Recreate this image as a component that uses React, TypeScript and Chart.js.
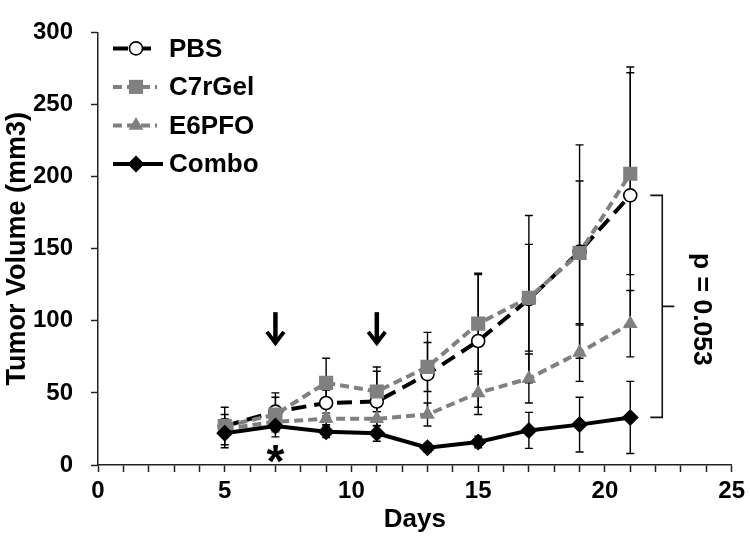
import React, { useEffect, useRef } from 'react';
import { Chart, registerables } from 'chart.js';

Chart.register(...registerables);

// ---- data ----
const days = [5, 7, 9, 11, 13, 15, 17, 19, 21];
const pbs = [27, 37, 43, 44, 63, 86, 115, 148, 187];
const pbsErr = [13, 13, 9, 24, 29, 46, 58, 74, 89];
const c7rGel = [27, 35, 57, 51, 68, 98, 116, 147, 202];
const c7rGelErr = [8, 12, 17, 14, 17, 35, 37, 50, 70];
const e6pfo = [25, 30, 32, 32, 35, 50, 60, 78, 98];
const e6pfoErr = [5, 6, 4, 5, 8, 15, 17, 20, 23];
const combo = [22, 27, 23, 22, 12, 16, 24, 28, 33];
const comboErr = [10, 7.5, 4, 5.5, 3, 4, 12.5, 19, 25];

const seriesNames = ['PBS', 'C7rGel', 'E6PFO', 'Combo'];
const xMin = 0, xMax = 25, xStep = 1, xLabelEvery = 5;
const yMin = 0, yMax = 300, yStep = 50;

// annotations (data units)
const arrowDays = [7, 11];
const arrowTop = 106;
const arrowBottom = 84;
const starDay = 7;
const starValue = 10;
const pText = 'p = 0.053';

const FONT = "'Liberation Sans', Arial, Helvetica, sans-serif";
const GRAY = '#808080';
const AXIS = '#222222';

const seriesValues = [pbs, c7rGel, e6pfo, combo];
const seriesErrs = [pbsErr, c7rGelErr, e6pfoErr, comboErr];
const seriesColors = ['#000000', GRAY, GRAY, '#000000'];
const seriesDash = [[15, 8], [9, 5], [9, 5], []];
const seriesPoint = ['circle', 'rect', 'triangle', 'rectRot'];
const seriesRadius = [6.5, 10, 8.5, 8.5];
const seriesPointFill = ['#ffffff', GRAY, GRAY, '#000000'];
const seriesPointBorder = ['#000000', GRAY, GRAY, '#000000'];
const seriesPointBorderW = [1.6, 0, 0, 0];

function drawMarker(ctx: CanvasRenderingContext2D, style: string, x: number, y: number, r: number, fill: string, stroke: string, bw: number) {
  ctx.save();
  ctx.setLineDash([]);
  ctx.beginPath();
  if (style === 'circle') {
    ctx.arc(x, y, r, 0, Math.PI * 2);
  } else if (style === 'rect') {
    const s = Math.SQRT1_2 * r;
    ctx.rect(x - s, y - s, 2 * s, 2 * s);
  } else if (style === 'triangle') {
    ctx.moveTo(x, y - r);
    ctx.lineTo(x + Math.sin(Math.PI / 3) * r, y + 0.5 * r);
    ctx.lineTo(x - Math.sin(Math.PI / 3) * r, y + 0.5 * r);
    ctx.closePath();
  } else {
    ctx.moveTo(x - r, y);
    ctx.lineTo(x, y - r);
    ctx.lineTo(x + r, y);
    ctx.lineTo(x, y + r);
    ctx.closePath();
  }
  ctx.fillStyle = fill;
  ctx.fill();
  if (bw > 0) {
    ctx.lineWidth = bw;
    ctx.strokeStyle = stroke;
    ctx.stroke();
  }
  ctx.restore();
}

const annotPlugin = {
  id: 'annot',
  beforeDatasetsDraw(chart: any) {
    const { ctx, scales } = chart;
    const xs = scales.x, ys = scales.y;
    ctx.save();
    ctx.strokeStyle = '#000';
    ctx.lineWidth = 1.4;
    ctx.setLineDash([]);
    seriesValues.forEach((vals, i) => {
      const errs = seriesErrs[i];
      vals.forEach((v, j) => {
        const x = xs.getPixelForValue(days[j]);
        const yt = ys.getPixelForValue(v + errs[j]);
        const yb = ys.getPixelForValue(Math.max(v - errs[j], 0));
        ctx.beginPath();
        ctx.moveTo(x, yt); ctx.lineTo(x, yb);
        ctx.moveTo(x - 4, yt); ctx.lineTo(x + 4, yt);
        ctx.moveTo(x - 4, yb); ctx.lineTo(x + 4, yb);
        ctx.stroke();
      });
    });
    ctx.restore();
  },
  afterDatasetsDraw(chart: any) {
    const { ctx, scales, chartArea } = chart;
    const xs = scales.x, ys = scales.y;
    ctx.save();
    ctx.setLineDash([]);
    // arrows
    ctx.strokeStyle = '#000';
    ctx.fillStyle = '#000';
    arrowDays.forEach((d) => {
      const x = xs.getPixelForValue(d);
      const y0 = ys.getPixelForValue(arrowTop);
      const y1 = ys.getPixelForValue(arrowBottom);
      ctx.lineWidth = 4.5;
      ctx.lineCap = 'butt';
      ctx.beginPath();
      ctx.moveTo(x, y0); ctx.lineTo(x, y1 - 2);
      ctx.stroke();
      ctx.lineWidth = 4;
      ctx.beginPath();
      ctx.moveTo(x - 8.5, y1 - 12); ctx.lineTo(x, y1 - 1); ctx.lineTo(x + 8.5, y1 - 12);
      ctx.stroke();
    });
    // asterisk
    ctx.font = `bold 46px ${FONT}`;
    ctx.textAlign = 'center';
    ctx.textBaseline = 'alphabetic';
    ctx.fillStyle = '#000';
    ctx.fillText('*', xs.getPixelForValue(starDay), ys.getPixelForValue(starValue) + 0.57 * 46);
    // bracket
    const lastX = xs.getPixelForValue(days[days.length - 1]);
    const bTop = ys.getPixelForValue(pbs[pbs.length - 1]);
    const bBot = ys.getPixelForValue(combo[combo.length - 1]);
    const bx = lastX + 32;
    ctx.lineWidth = 1.6;
    ctx.strokeStyle = '#111';
    ctx.beginPath();
    ctx.moveTo(lastX + 20, bTop); ctx.lineTo(bx, bTop); ctx.lineTo(bx, bBot); ctx.lineTo(lastX + 20, bBot);
    ctx.moveTo(bx, (bTop + bBot) / 2); ctx.lineTo(bx + 12, (bTop + bBot) / 2);
    ctx.stroke();
    // p text
    ctx.save();
    ctx.translate(lastX + 71, (bTop + bBot) / 2 + 3);
    ctx.rotate(Math.PI / 2);
    ctx.font = `bold 26.5px ${FONT}`;
    ctx.textAlign = 'center';
    ctx.textBaseline = 'middle';
    ctx.fillText(pText, 0, 0);
    ctx.restore();
    // legend
    const lx0 = chartArea.left + 15;
    seriesNames.forEach((name, i) => {
      const y = chartArea.top + 16 + i * 38.5;
      const lx1 = i === 3 ? lx0 + 50 : lx0 + 44;
      ctx.save();
      ctx.strokeStyle = seriesColors[i];
      ctx.lineWidth = 4;
      ctx.setLineDash(seriesDash[i]);
      ctx.beginPath();
      ctx.moveTo(lx0, y); ctx.lineTo(lx1, y);
      ctx.stroke();
      ctx.restore();
      drawMarker(ctx, seriesPoint[i], lx0 + 23, y, seriesRadius[i], seriesPointFill[i], seriesPointBorder[i], seriesPointBorderW[i]);
      ctx.font = `bold 26px ${FONT}`;
      ctx.textAlign = 'left';
      ctx.textBaseline = 'middle';
      ctx.fillStyle = '#000';
      ctx.fillText(name, lx0 + 56, y + 1);
    });
    ctx.restore();
  },
};

export default function App() {
  const ref = useRef<HTMLCanvasElement>(null);
  useEffect(() => {
    document.body.style.margin = '0';
    const canvas = ref.current;
    if (!canvas) return;
    const datasets = seriesNames.map((name, i) => ({
      label: name,
      data: days.map((d, j) => ({ x: d, y: seriesValues[i][j] })),
      borderColor: seriesColors[i],
      borderWidth: 4,
      borderDash: seriesDash[i],
      pointStyle: seriesPoint[i],
      pointRadius: seriesRadius[i],
      pointBackgroundColor: seriesPointFill[i],
      pointBorderColor: seriesPointBorder[i],
      pointBorderWidth: seriesPointBorderW[i],
      fill: false,
      tension: 0,
      order: 4 - i,
    }));
    const chart = new Chart(canvas, {
      type: 'line',
      data: { datasets },
      plugins: [annotPlugin],
      options: {
        animation: false,
        responsive: false,
        layout: { padding: { left: 0, right: 15, top: 19, bottom: 2 } },
        plugins: { legend: { display: false }, tooltip: { enabled: false } },
        scales: {
          x: {
            type: 'linear',
            min: xMin,
            max: xMax,
            grid: { display: true, drawOnChartArea: false, drawTicks: true, tickLength: 7, tickColor: AXIS, tickWidth: 1.5 },
            border: { display: true, color: AXIS, width: 1.5 },
            ticks: {
              stepSize: xStep,
              autoSkip: false,
              maxRotation: 0,
              padding: 5,
              color: '#000',
              font: { family: FONT, size: 24, weight: 'bold' },
              callback: (v: any) => (Number(v) % xLabelEvery === 0 ? String(v) : ''),
            },
            title: { display: true, text: 'Days', color: '#000', font: { family: FONT, size: 26, weight: 'bold' }, padding: { top: 0, bottom: -1 } },
            afterFit: (s: any) => { s.height = 69; },
          },
          y: {
            type: 'linear',
            min: yMin,
            max: yMax,
            grid: { display: true, drawOnChartArea: false, drawTicks: true, tickLength: 7, tickColor: AXIS, tickWidth: 1.5 },
            border: { display: true, color: AXIS, width: 1.5 },
            ticks: { stepSize: yStep, padding: 18, color: '#000', font: { family: FONT, size: 24, weight: 'bold' } },
            title: { display: true, text: 'Tumor Volume (mm3)', color: '#000', font: { family: FONT, size: 27, weight: 'bold' }, padding: { top: 1, bottom: 0 } },
            afterFit: (s: any) => { s.width = 98; },
          },
        },
      } as any,
    });
    return () => chart.destroy();
  }, []);
  return (
    <div style={{ width: 750, height: 536 }}>
      <canvas ref={ref} width={750} height={536} style={{ display: 'block' }} />
    </div>
  );
}
